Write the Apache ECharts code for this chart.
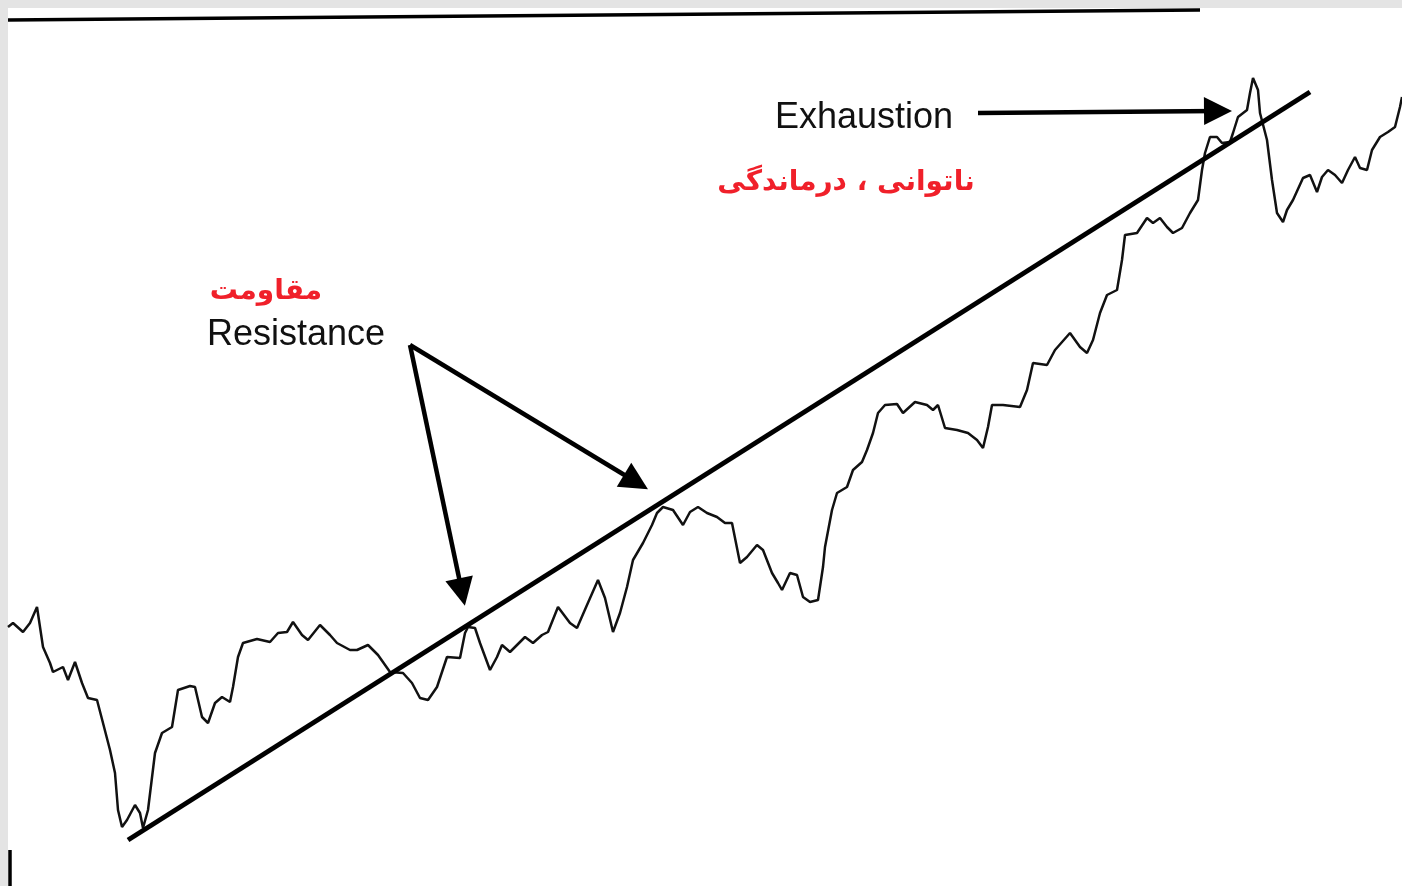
<!DOCTYPE html>
<html>
<head>
<meta charset="utf-8">
<title>Resistance / Exhaustion</title>
<script src="https://cdn.jsdelivr.net/npm/echarts@6/dist/echarts.min.js"></script>
<style>
  html, body { margin: 0; padding: 0; background: #e4e4e4; }
  #chart { width: 1402px; height: 886px; }
</style>
</head>
<body>
<div id="chart"></div>
<script>
// price path (x to the right, y downwards)
const price = [
  [8,627],[13,623],[23,632],[30,623],[37,607],[43,647],[50,663],[53,672],[63,667],[68,680],[75,662],[82,683],
  [88,698],[97,700],[103,723],[110,750],[115,773],[118,810],[122,827],[127,820],[135,805],[140,813],[143,828],
  [148,810],[155,753],[162,733],[172,727],[178,690],[190,686],[195,687],[202,717],[208,723],[215,703],[222,697],
  [230,702],[233,687],[238,657],[243,643],[257,639],[270,642],[278,633],[287,632],[293,622],[302,635],[308,640],
  [320,625],[330,635],[337,643],[350,650],[357,650],[368,645],[378,655],[390,672],[403,673],[412,683],[420,698],
  [428,700],[437,687],[447,657],[460,658],[465,633],[468,627],[475,628],[480,643],[490,670],[497,657],[502,645],
  [510,652],[517,645],[525,637],[533,643],[542,635],[548,632],[558,607],[570,623],[577,628],[587,605],[598,580],
  [605,598],[613,632],[620,613],[627,587],[633,560],[643,543],[652,525],[657,513],[663,507],[673,510],[683,525],
  [690,512],[698,507],[707,513],[717,517],[725,523],[732,523],[740,563],[747,557],[757,545],[763,550],[772,573],
  [778,583],[782,590],[790,573],[797,575],[803,597],[810,602],[818,600],[823,567],[825,547],[832,510],[837,493],
  [847,487],[853,470],[862,462],[867,450],[873,433],[878,413],[885,405],[897,404],[903,413],[915,402],[927,405],
  [933,410],[938,405],[945,428],[957,430],[968,433],[977,440],[983,448],[988,427],[992,405],[1003,405],[1020,407],
  [1027,390],[1033,363],[1047,365],[1055,350],[1070,333],[1080,347],[1087,353],[1093,340],[1100,313],[1107,295],
  [1117,290],[1122,260],[1125,235],[1137,233],[1147,218],[1153,223],[1160,218],[1167,227],[1173,233],[1182,228],
  [1190,213],[1198,200],[1202,170],[1205,153],[1210,137],[1217,137],[1222,143],[1230,142],[1233,133],[1238,117],
  [1247,110],[1250,93],[1253,78],[1258,90],[1260,113],[1267,140],[1272,180],[1277,213],[1283,222],[1287,210],
  [1293,200],[1303,178],[1310,175],[1317,192],[1322,177],[1328,170],[1335,175],[1342,183],[1348,170],[1355,157],
  [1360,168],[1367,170],[1372,150],[1380,137],[1388,132],[1395,127],[1400,107],[1402,97]
];

// the drawn trend line
const trend = [[128,840],[1310,92]];

// scan edges: top rule and the little mark bottom-left
const frame = [
  [[8,20],[1200,10]],
  [[10,850],[10,886]]
];

// arrows: [from, to]
const arrows = [
  [[978,113],[1218,111]],
  [[410,345],[462,592]],
  [[410,345],[636,482]]
];

// labels: x, y, text, colour, size
const notes = [
  [864,118,'Exhaustion','#111',36],
  [846,183,'ناتوانی ، درماندگی','#f0202a',28],
  [266,292,'مقاومت','#f0202a',28],
  [296,335,'Resistance','#111',36]
];

const chart = echarts.init(document.getElementById('chart'));

chart.setOption({
  backgroundColor: '#e4e4e4',
  animation: false,
  grid: { left: 8, top: 8, right: 0, bottom: 0, show: true, backgroundColor: '#fff', borderWidth: 0 },
  xAxis: { type: 'value', min: 8, max: 1402, show: false },
  yAxis: { type: 'value', min: 8, max: 886, inverse: true, show: false },
  series: [
    {
      type: 'line',
      data: price,
      symbol: 'none',
      lineStyle: { color: '#111', width: 2.5 }
    },
    {
      type: 'line',
      data: trend,
      symbol: 'none',
      lineStyle: { color: '#000', width: 5 }
    },
    {
      type: 'lines',
      coordinateSystem: 'cartesian2d',
      data: frame.map(c => ({ coords: c })),
      lineStyle: { color: '#000', width: 3.5, opacity: 1 }
    },
    {
      type: 'lines',
      coordinateSystem: 'cartesian2d',
      symbol: ['none', 'triangle'],
      symbolSize: [0, 28],
      data: arrows.map(c => ({ coords: c })),
      lineStyle: { color: '#000', width: 4.5, opacity: 1 }
    },
    {
      type: 'scatter',
      symbolSize: 0,
      itemStyle: { opacity: 1 },
      data: notes.map(n => ({
        value: [n[0], n[1]],
        label: {
          show: true,
          position: 'inside',
          formatter: n[2],
          color: n[3],
          fontSize: n[4],
          fontWeight: n[3] === '#111' ? 'normal' : 'bold',
          fontFamily: n[3] === '#111' ? 'Liberation Sans' : 'DejaVu Sans'
        }
      }))
    }
  ]
});
</script>
</body>
</html>
